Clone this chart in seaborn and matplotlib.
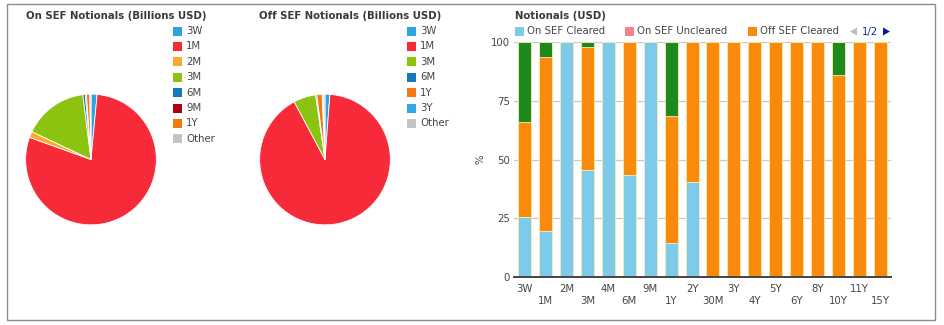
import numpy as np
import pandas as pd
import matplotlib
matplotlib.use("Agg")
import matplotlib.pyplot as plt
import seaborn as sns
from matplotlib.patches import Rectangle, Polygon

# ---------------- data ----------------
on_labels = ["3W", "1M", "2M", "3M", "6M", "9M", "1Y", "Other"]
on_values = [1.5, 79.0, 1.5, 16.0, 0.6, 0.3, 0.8, 0.3]
off_labels = ["3W", "1M", "3M", "6M", "1Y", "3Y", "Other"]
off_values = [1.2, 91.0, 5.5, 0.3, 1.3, 0.3, 0.4]

tenors = ["3W", "1M", "2M", "3M", "4M", "6M", "9M", "1Y", "2Y", "30M",
          "3Y", "4Y", "5Y", "6Y", "8Y", "10Y", "11Y", "15Y"]
on_sef_cleared = [25.4, 19.7, 100, 45.5, 100, 43.4, 100, 14.3, 40.6, 0,
                  0, 0, 0, 0, 0, 0, 0, 0]
on_sef_uncleared = [0] * 18
off_sef_cleared = [40.4, 73.8, 0, 52.2, 0, 56.6, 0, 54.2, 59.4, 100,
                   100, 100, 100, 100, 100, 86, 100, 100]
off_sef_uncleared = [34.2, 6.5, 0, 2.3, 0, 0, 0, 31.5, 0, 0,
                     0, 0, 0, 0, 0, 14, 0, 0]
series_names = ["On SEF Cleared", "On SEF Uncleared", "Off SEF Cleared"]

# ---------------- style ----------------
sns.set_theme(style="white")
plt.rcParams['font.family'] = ['DejaVu Sans']

tenor_colors = {"3W": "#2ea3e0", "1M": "#f72a3a", "2M": "#f8aa2c", "3M": "#8cc210",
                "6M": "#1879b8", "9M": "#b0000f", "1Y": "#f5780f", "3Y": "#33a6e6",
                "Other": "#c4c4c4"}
c_on_cl = "#7ccbeb"
c_on_uncl = "#f4848c"
c_off_cl = "#f98a0c"
c_off_uncl = "#1e8a1e"

W, H = 945, 325
fig = plt.figure(figsize=(W / 100, H / 100), dpi=100)
fig.patch.set_facecolor("white")

FS = 7.3


def fx(px):
    return px / W


def fy(py):
    return 1 - py / H


title_col = "#3a3a3a"
text_col = "#444444"

# outer border
fig.patches.append(Rectangle((fx(7), fy(320)), fx(928), (316) / H, transform=fig.transFigure,
                             fill=False, edgecolor="#8c8c8c", linewidth=1.0))


def draw_pie(cx, cy, r, labels, values, title, title_x, leg_sq_x, leg_txt_x):
    ax = fig.add_axes([fx(cx - r), fy(cy + r), 2 * r / W, 2 * r / H])
    ax.pie(values, colors=[tenor_colors[l] for l in labels], startangle=90,
           counterclock=False, radius=1,
           wedgeprops=dict(edgecolor="white", linewidth=0.6))
    ax.set_xlim(-1.01, 1.01)
    ax.set_ylim(-1.01, 1.01)
    ax.set_aspect("auto")
    ax.axis("off")
    fig.text(fx(title_x), fy(16), title, fontsize=FS, fontweight="bold",
             color=title_col, va="center", ha="left")
    for i, l in enumerate(labels):
        yc = 31 + i * 15.4
        fig.patches.append(Rectangle((fx(leg_sq_x), fy(yc + 4.5)), 9 / W, 9 / H,
                                     transform=fig.transFigure,
                                     facecolor=tenor_colors[l], edgecolor="none"))
        fig.text(fx(leg_txt_x), fy(yc), l, fontsize=FS, color=text_col,
                 va="center", ha="left")


draw_pie(91, 159.5, 66, on_labels, on_values, "On SEF Notionals (Billions USD)", 26, 173, 186)
draw_pie(325, 159.5, 66, off_labels, off_values, "Off SEF Notionals (Billions USD)", 259, 407, 420)

# ---------------- stacked bar chart ----------------
df = pd.DataFrame({
    "tenor": tenors,
    "on_cl": on_sef_cleared,
    "on_uncl": on_sef_uncleared,
    "off_cl": off_sef_cleared,
    "off_uncl": off_sef_uncleared,
})
df["c1"] = df["on_cl"]
df["c2"] = df["c1"] + df["on_uncl"]
df["c3"] = df["c2"] + df["off_cl"]
df["c4"] = df["c3"] + df["off_uncl"]

axb = fig.add_axes([fx(514), fy(277), 377 / W, 235 / H])
bw = 0.62
edge = "#fbeeb0"
for col, colr in [("c4", c_off_uncl), ("c3", c_off_cl), ("c2", c_on_uncl), ("c1", c_on_cl)]:
    sns.barplot(data=df, x="tenor", y=col, order=tenors, color=colr, width=bw,
                edgecolor=edge, linewidth=0.6, saturation=1, ax=axb, zorder=3)

axb.set_xlim(-0.5, len(tenors) - 0.5)
axb.set_ylim(0, 100)
axb.set_yticks([0, 25, 50, 75, 100])
axb.set_yticklabels(["0", "25", "50", "75", "100"], fontsize=FS, color=text_col)
axb.set_xticks(range(len(tenors)))
axb.set_xticklabels([t if i % 2 == 0 else "\n" + t for i, t in enumerate(tenors)],
                    fontsize=FS, color=text_col, linespacing=1.3)
axb.tick_params(axis="both", length=0)
axb.tick_params(axis="x", pad=5)
axb.tick_params(axis="y", pad=3)
axb.set_xlabel("")
axb.set_ylabel("%", fontsize=FS, color=text_col, labelpad=4)
axb.yaxis.grid(True, color="#c8c8c8", linewidth=0.9, zorder=0)
axb.xaxis.grid(False)
for s in ["top", "right", "left"]:
    axb.spines[s].set_visible(False)
axb.spines["bottom"].set_color("#444444")
axb.spines["bottom"].set_linewidth(1.4)
axb.spines["bottom"].set_zorder(5)
axb.set_facecolor("none")

fig.text(fx(515), fy(16), "Notionals (USD)", fontsize=FS, fontweight="bold",
         color=title_col, va="center", ha="left")

leg_items = [(515, 527, c_on_cl), (625, 637, c_on_uncl), (748, 760, c_off_cl)]
for (sqx, tx, colr), name in zip(leg_items, series_names):
    fig.patches.append(Rectangle((fx(sqx), fy(35.5)), 9 / W, 9 / H,
                                 transform=fig.transFigure, facecolor=colr, edgecolor="none"))
    fig.text(fx(tx), fy(31.5), name, fontsize=FS, color=text_col, va="center", ha="left")

# pagination arrows
fig.patches.append(Polygon([[fx(850), fy(31.5)], [fx(857), fy(27.5)], [fx(857), fy(35.5)]],
                           closed=True, transform=fig.transFigure,
                           facecolor="#bdbdbd", edgecolor="none"))
fig.text(fx(862), fy(31.5), "1/2", fontsize=FS, color="#1a2a8c", va="center", ha="left")
fig.patches.append(Polygon([[fx(883), fy(27.5)], [fx(890), fy(31.5)], [fx(883), fy(35.5)]],
                           closed=True, transform=fig.transFigure,
                           facecolor="#0b1a9a", edgecolor="none"))

fig.savefig("out.png", dpi=100, facecolor="white")
